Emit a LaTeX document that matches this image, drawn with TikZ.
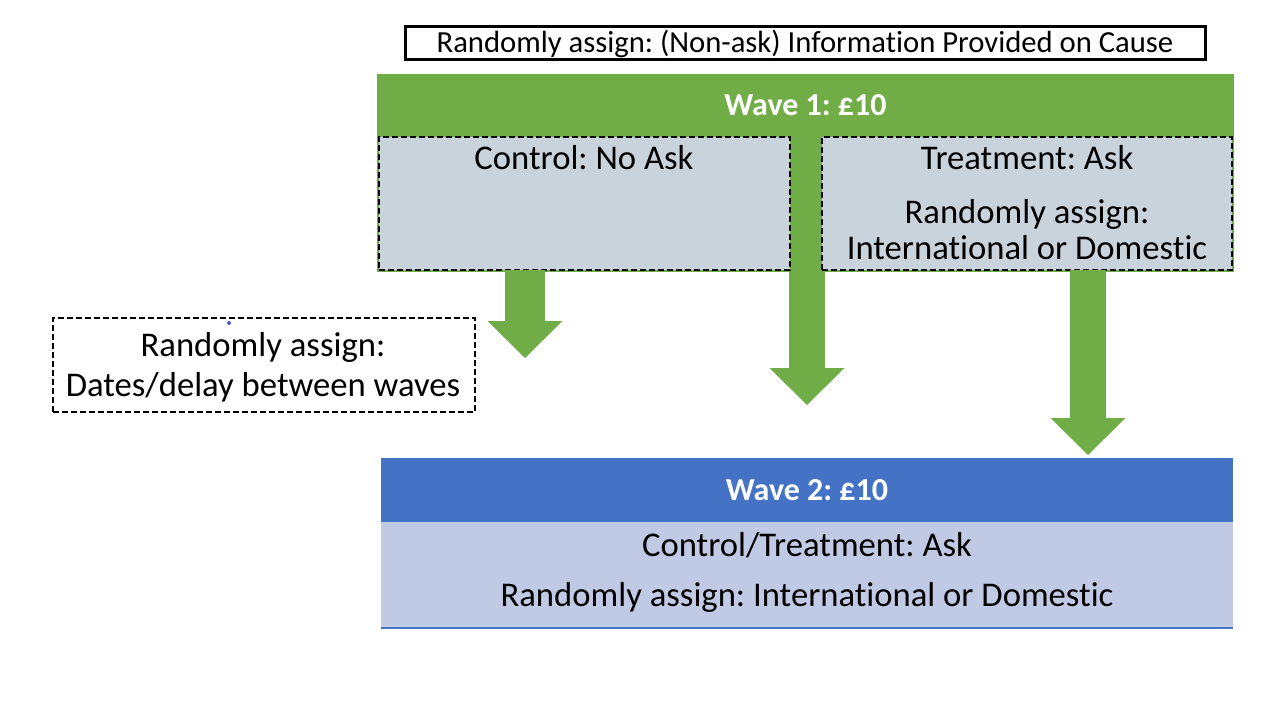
\documentclass[tikz,border=0pt]{standalone}
\usepackage{fontspec}
\setmainfont{Carlito}[Ligatures=NoCommon]
\usetikzlibrary{arrows.meta}
\frenchspacing
\definecolor{wavegreen}{HTML}{70AD47}
\definecolor{waveblue}{HTML}{4472C4}
\definecolor{boxgrey}{HTML}{C9D3DC}
\definecolor{bodyblue}{HTML}{C1CAE5}
\definecolor{dotblue}{HTML}{4B5BD6}
\tikzset{
  box/.style={rectangle, inner sep=0pt, outer sep=0pt},
  dashbox/.style={box, draw=black, line width=1.6pt, dash pattern=on 4.5pt off 2.25pt},
  txt/.style={inner sep=0pt, font=\fontsize{26}{30}\selectfont, text=black},
  head/.style={font=\fontsize{24}{28}\selectfont\bfseries, text=white},
  blockarrow/.style={draw=wavegreen, line width=27pt,
    -{Triangle[length=27.75pt, width=56.25pt, line width=0pt]}},
}
\begin{document}
\begin{tikzpicture}[x=0.75pt, y=-0.75pt]
\useasboundingbox (0,0) rectangle (1280,720);

% top: information
\node[box, draw, line width=2.25pt, minimum width=600pt, minimum height=24.75pt,
  font=\fontsize{23}{27}\selectfont] (info) at (805,43.5)
  {Randomly assign: (Non-ask) Information Provided on Cause};

% wave 1
\fill[wavegreen] (377,74) rectangle (1234,272);
\node[box, fill=wavegreen, minimum width=641.25pt, minimum height=45pt, head] (wave1) at (805.5,105) {Wave 1: £10};
\coordinate (mtip) at (807,405);
\draw[blockarrow] (wave1.south -| mtip) -- (mtip);

\node[dashbox, fill=boxgrey, minimum width=308.25pt, minimum height=99.75pt] (ctrl) at (584.5,203.5) {};
\node[dashbox, fill=boxgrey, minimum width=307.5pt, minimum height=99.75pt] (treat) at (1027,203.5) {};
\node[txt] (ctrltxt) at (584,158) {Control: No Ask};
\node[txt] (treattxt) at (1027,158) {Treatment: Ask};
\node[txt, align=center, font=\fontsize{26}{27}\selectfont] (treatrand) at (1027,230)
  {Randomly assign:\\International or Domestic};

% arrows down
\coordinate (dtip) at (525,358);
\coordinate (rtip) at (1088,455);
\draw[blockarrow, line width=30pt] (ctrl.south -| dtip) -- (dtip);
\draw[blockarrow] (treat.south -| rtip) -- (rtip);

% delay between waves
\node[dashbox, fill=white, minimum width=316.5pt, minimum height=70.5pt] (delay) at (264,365) {};
\node[txt, align=center, font=\fontsize{26}{30}\selectfont] (delaytxt) at (263,367)
  {Randomly assign:\\Dates/delay between waves};
\fill[dotblue] (229,323) circle (2);

% wave 2
\node[box, fill=waveblue, minimum width=639pt, minimum height=48pt, head] (wave2) at (807,490) {Wave 2: £10};
\node[box, fill=bodyblue, minimum width=639pt, minimum height=79.5pt] (body) at (807,575) {};
\draw[waveblue, line width=1pt] (body.south west) -- (body.south east);
\node[txt] (bodyask) at (807,545) {Control/Treatment: Ask};
\node[txt] (bodyrand) at (807,597) {Randomly assign: International or Domestic};
\end{tikzpicture}
\end{document}
